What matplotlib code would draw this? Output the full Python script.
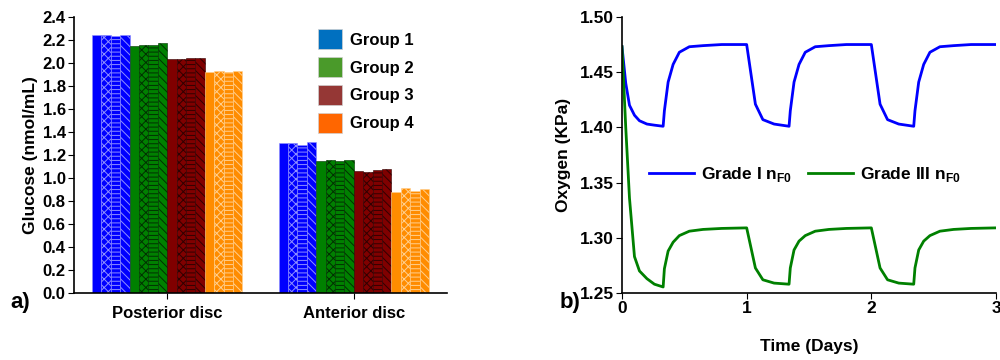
import matplotlib
matplotlib.use("Agg")
import matplotlib.pyplot as plt
import numpy as np
from matplotlib.patches import Patch

plt.rcParams['font.family'] = ['Liberation Sans', 'DejaVu Sans']
plt.rcParams['font.weight'] = 'bold'
plt.rcParams['hatch.linewidth'] = 0.7

# ---- dados do painel a) ----
categories = ["Posterior disc", "Anterior disc"]
groups = ["Group 1", "Group 2", "Group 3", "Group 4"]
# 4 barras por grupo (sólida, círculos, horizontal, diagonal)
posterior = [
    [2.24, 2.24, 2.23, 2.24],
    [2.15, 2.16, 2.16, 2.17],
    [2.03, 2.03, 2.04, 2.04],
    [1.92, 1.93, 1.92, 1.93],
]
anterior = [
    [1.30, 1.30, 1.29, 1.31],
    [1.15, 1.16, 1.15, 1.16],
    [1.06, 1.05, 1.07, 1.08],
    [0.88, 0.91, 0.89, 0.90],
]
bar_colors = ["#0000FF", "#008000", "#800000", "#FF8C00"]
hatch_colors = ["#9090FF", "#003000", "#300000", "#FFD090"]
legend_colors = ["#0070C0", "#4A9A2A", "#953735", "#FF6600"]
hatches = [None, "xxxx", "----", "\\\\\\\\"]

# ---- dados do painel b) ----
time_days = [0.00, 0.03, 0.06, 0.10, 0.14, 0.20, 0.26, 0.33,
             0.34, 0.37, 0.41, 0.46, 0.54, 0.65, 0.80, 1.00,
             1.07, 1.13, 1.22, 1.34,
             1.35, 1.38, 1.42, 1.47, 1.55, 1.66, 1.80, 2.00,
             2.07, 2.13, 2.22, 2.34,
             2.35, 2.38, 2.42, 2.47, 2.55, 2.66, 2.80, 3.00]
grade1 = [1.473, 1.440, 1.420, 1.411, 1.406, 1.403, 1.402, 1.401,
          1.415, 1.441, 1.457, 1.468, 1.473, 1.474, 1.475, 1.475,
          1.421, 1.407, 1.403, 1.401,
          1.415, 1.441, 1.457, 1.468, 1.473, 1.474, 1.475, 1.475,
          1.421, 1.407, 1.403, 1.401,
          1.415, 1.441, 1.457, 1.468, 1.473, 1.474, 1.475, 1.475]
grade3 = [1.473, 1.400, 1.336, 1.283, 1.270, 1.263, 1.258, 1.2555,
          1.272, 1.288, 1.296, 1.302, 1.306, 1.3076, 1.3085, 1.309,
          1.2727, 1.262, 1.259, 1.258,
          1.2727, 1.289, 1.297, 1.302, 1.306, 1.3076, 1.3085, 1.309,
          1.2727, 1.262, 1.259, 1.258,
          1.2727, 1.289, 1.297, 1.302, 1.306, 1.3076, 1.3085, 1.309]

fig = plt.figure(figsize=(10, 3.6), dpi=100)

# ---- painel a) ----
ax1 = fig.add_axes([0.074, 0.186, 0.373, 0.767])
n_bars = 16
width = 0.806 / n_bars
x_cat = np.arange(len(categories))
for g in range(4):
    for k in range(4):
        idx = g * 4 + k
        offs = (idx - (n_bars - 1) / 2) * width
        vals = [posterior[g][k], anterior[g][k]]
        ax1.bar(x_cat + offs, vals, width, color=bar_colors[g],
                edgecolor=hatch_colors[g], linewidth=0.4, hatch=hatches[k])

ax1.set_xlim(-0.5, 1.5)
ax1.set_ylim(0, 2.4)
ax1.set_yticks(np.arange(0, 2.41, 0.2))
ax1.set_yticklabels([f"{v:.1f}" for v in np.arange(0, 2.41, 0.2)])
ax1.set_xticks(x_cat)
ax1.set_xticklabels(categories, fontsize=12, fontweight='bold')
ax1.set_ylabel("Glucose (nmol/mL)", fontsize=12.5, fontweight='bold', labelpad=3)
ax1.tick_params(axis='y', labelsize=12, direction='out', length=4, pad=2)
ax1.tick_params(axis='x', direction='out', length=4, pad=5)
ax1.spines['top'].set_visible(False)
ax1.spines['right'].set_visible(False)
for s in ['left', 'bottom']:
    ax1.spines[s].set_linewidth(1.2)

handles = [Patch(facecolor=c, edgecolor='#D0D0D0', linewidth=0.5) for c in legend_colors]
ax1.legend(handles, groups, loc='upper left', bbox_to_anchor=(0.615, 1.01),
           frameon=False, prop={'size': 12, 'weight': 'bold'},
           handlelength=1.4, handleheight=1.5, labelspacing=0.45, handletextpad=0.5)
fig.text(0.010, 0.16, "a)", fontsize=16, fontweight='bold', va='center')

# ---- painel b) ----
ax2 = fig.add_axes([0.622, 0.186, 0.374, 0.767])
ax2.plot(time_days, grade1, color='#0000FF', lw=2, label=r"Grade I n$_{\mathregular{F0}}$")
ax2.plot(time_days, grade3, color='#008000', lw=2, label=r"Grade III n$_{\mathregular{F0}}$")
ax2.set_xlim(0, 3)
ax2.set_ylim(1.25, 1.50)
ax2.set_xticks([0, 1, 2, 3])
ax2.set_yticks([1.25, 1.30, 1.35, 1.40, 1.45, 1.50])
ax2.set_yticklabels(["1.25", "1.30", "1.35", "1.40", "1.45", "1.50"])
ax2.set_xlabel("Time (Days)", fontsize=12.5, fontweight='bold', labelpad=16)
ax2.set_ylabel("Oxygen (KPa)", fontsize=12.5, fontweight='bold', labelpad=6)
ax2.tick_params(labelsize=12.5, direction='out', length=4, pad=2)
ax2.spines['top'].set_visible(False)
ax2.spines['right'].set_visible(False)
for s in ['left', 'bottom']:
    ax2.spines[s].set_linewidth(1.2)
ax2.legend(loc='center left', bbox_to_anchor=(0.03, 0.43), ncol=2, frameon=False,
           prop={'size': 12.5, 'weight': 'bold'}, handlelength=2.6,
           handletextpad=0.4, columnspacing=0.9)
fig.text(0.56, 0.16, "b)", fontsize=16, fontweight='bold', va='center')

fig.savefig("out.png", dpi=100)
